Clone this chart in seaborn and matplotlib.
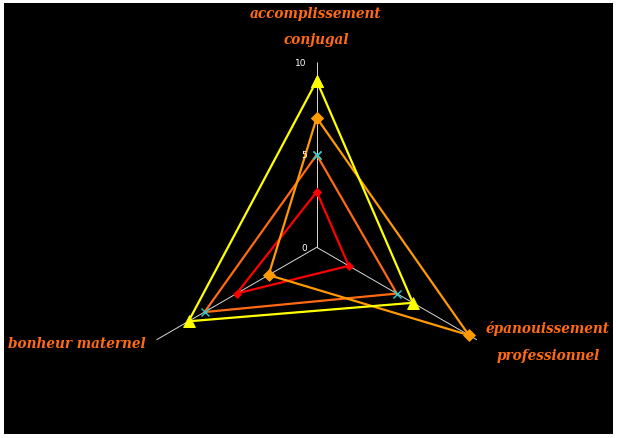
import numpy as np
import matplotlib
matplotlib.use("Agg")
import matplotlib.pyplot as plt
import matplotlib.transforms as mtransforms
from matplotlib.patches import Rectangle
import seaborn as sns

# axes of the radar, clockwise from the top
categories = ["accomplissement\nconjugal", "épanouissement\nprofessionnel", "bonheur maternel"]
rad_ticks = [0, 5, 10]

# one list per series, in category order
serie_rouge = [3, 2, 5]
serie_orange_fonce = [5, 5, 7]
serie_orange = [7, 9.5, 3]
serie_jaune = [9, 6, 8]

series = [
    (serie_rouge, "#ff0000", "D", 4, "#ff0000"),
    (serie_orange_fonce, "#ff6a12", "x", 6, "#33cccc"),
    (serie_orange, "#ff9a00", "D", 6, "#ff9a00"),
    (serie_jaune, "#ffff00", "^", 8, "#ffff00"),
]

sns.set_style("dark")
W, H = 618, 439
fig = plt.figure(figsize=(W / 100, H / 100), dpi=100, facecolor="white")

# black panel with a thin white margin
fig.patches.append(Rectangle((4 / W, 4 / H), 609 / W, 431 / H, transform=fig.transFigure,
                             facecolor="black", edgecolor="none", zorder=-10))

cx, cy, R = 316.7, H - 248.3, 185
ax = fig.add_axes([(cx - R) / W, (cy - R) / H, 2 * R / W, 2 * R / H], projection="polar")
ax.set_facecolor("none")
ax.set_theta_zero_location("N")
ax.set_theta_direction(-1)

angles = np.linspace(0, 2 * np.pi, len(categories), endpoint=False)
theta = np.append(angles, angles[0] + 2 * np.pi)

for vals, col, mk, ms, mcol in series:
    r = np.append(vals, vals[0])
    sns.lineplot(x=theta, y=r, ax=ax, sort=False, estimator=None, color=col, lw=1.6,
                 marker=mk, markersize=ms, mec=mcol, mfc=mcol, mew=1.0 if mk == "x" else 0.5)

ax.set_ylim(0, 10)
ax.set_yticks([])
ax.set_xticks(angles)
ax.set_xticklabels([])
ax.set_xlabel("")
ax.set_ylabel("")
ax.xaxis.grid(True, color="#d8d8d8", lw=0.7)
ax.yaxis.grid(False)
ax.spines["polar"].set_visible(False)

lab_tr = mtransforms.offset_copy(ax.transData, fig=fig, x=-10, y=0, units="dots")
for t in rad_ticks:
    ax.text(0, t, str(t), transform=lab_tr, ha="right", va="center",
            color="white", fontsize=6.5, family="DejaVu Sans")

font = dict(family="DejaVu Serif", style="italic", weight="bold", size=9.8,
            color="#ff6a12", linespacing=2.15)
fig.text(316 / W, 1 - 27 / H, categories[0], ha="center", va="center", **font)
fig.text(548 / W, 1 - 342 / H, categories[1], ha="center", va="center", **font)
fig.text(8 / W, 1 - 344 / H, categories[2], ha="left", va="center", **font)

fig.savefig("out.png", dpi=100, facecolor="white")
